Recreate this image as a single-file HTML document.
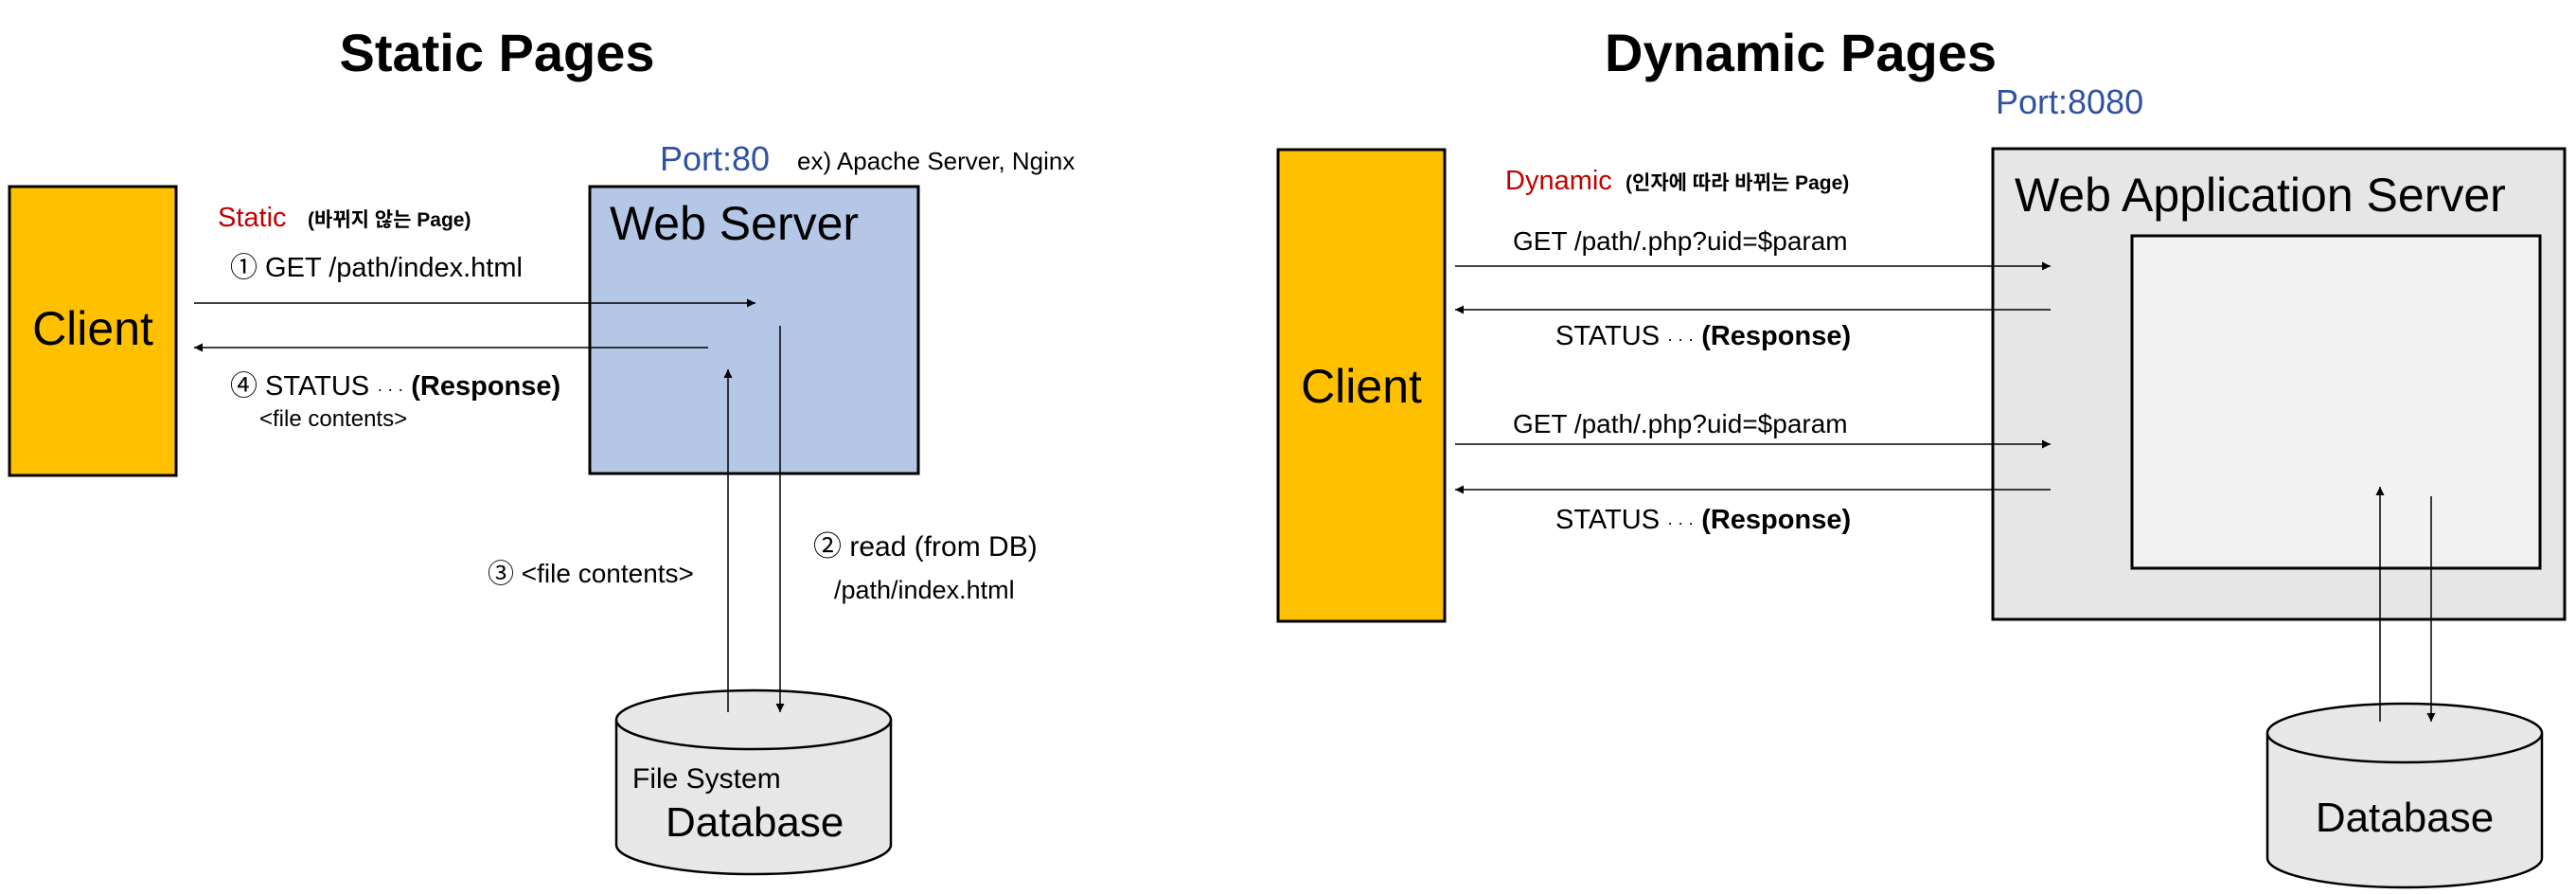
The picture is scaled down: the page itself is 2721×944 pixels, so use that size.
<!DOCTYPE html>
<html><head><meta charset="utf-8"><style>
html,body{margin:0;padding:0;background:#fff;width:2721px;height:944px;overflow:hidden}
svg text{font-family:"Liberation Sans","Noto Sans CJK KR",sans-serif}
.k{font-family:"Liberation Sans","Noto Sans CJK KR",sans-serif;font-weight:bold}
</style></head><body>
<svg width="2721" height="944" viewBox="0 0 2721 944" xmlns="http://www.w3.org/2000/svg">
<defs>
<marker id="a" viewBox="0 0 10 10" refX="10" refY="5" markerWidth="9" markerHeight="9" markerUnits="userSpaceOnUse" orient="auto"><path d="M0,0L10,5L0,10z" fill="#000"/></marker>
</defs>
<!-- Static -->
<text x="525" y="75" font-size="56" font-weight="bold" text-anchor="middle">Static Pages</text>
<rect x="10" y="197" width="176" height="305" fill="#ffc000" stroke="#000" stroke-width="3"/>
<text x="98" y="364" font-size="50" text-anchor="middle">Client</text>
<rect x="623" y="197" width="347" height="303" fill="#b4c7e7" stroke="#000" stroke-width="3"/>
<text x="644" y="253" font-size="50">Web Server</text>
<text x="697" y="180" font-size="36" fill="#2f52a0">Port:80</text>
<text x="842" y="179" font-size="26">ex) Apache Server, Nginx</text>
<text x="230" y="239" font-size="29" fill="#c00000">Static</text>
<text x="325" y="239" font-size="21" class="k">(바뀌지 않는 Page)</text>
<text x="243" y="292" font-size="29">① GET  /path/index.html</text>
<line x1="205" y1="320" x2="798" y2="320" stroke="#000" stroke-width="1.5" marker-end="url(#a)"/>
<line x1="748" y1="367" x2="205" y2="367" stroke="#000" stroke-width="1.5" marker-end="url(#a)"/>
<text x="243" y="417" font-size="29">④ STATUS <tspan font-size="18">· · ·</tspan> <tspan font-weight="bold">(Response)</tspan></text>
<text x="274" y="450" font-size="24">&lt;file contents&gt;</text>
<text x="515" y="615" font-size="28">③ &lt;file contents&gt;</text>
<text x="859" y="587" font-size="30">② read (from DB)</text>
<text x="881" y="632" font-size="27">/path/index.html</text>
<path d="M651,760 L651,892 A145,31 0 0 0 941,892 L941,760" fill="#e7e7e7" stroke="#000" stroke-width="2.5"/>
<ellipse cx="796" cy="760" rx="145" ry="31" fill="#e7e7e7" stroke="#000" stroke-width="2.5"/>
<line x1="769" y1="752" x2="769" y2="390" stroke="#000" stroke-width="1.5" marker-end="url(#a)"/>
<line x1="824" y1="344" x2="824" y2="752" stroke="#000" stroke-width="1.5" marker-end="url(#a)"/>
<text x="668" y="832" font-size="30">File System</text>
<text x="703" y="883" font-size="44">Database</text>
<!-- Dynamic -->
<text x="1902" y="75" font-size="56" font-weight="bold" text-anchor="middle">Dynamic Pages</text>
<text x="2108" y="120" font-size="36" fill="#2f52a0">Port:8080</text>
<rect x="1350" y="158" width="176" height="498" fill="#ffc000" stroke="#000" stroke-width="3"/>
<text x="1438" y="425" font-size="50" text-anchor="middle">Client</text>
<rect x="2105" y="157" width="604" height="497" fill="#e6e6e6" stroke="#000" stroke-width="3"/>
<rect x="2252" y="249" width="431" height="351" fill="#f2f2f2" stroke="#000" stroke-width="3"/>
<text x="2128" y="223" font-size="50">Web Application Server</text>
<text x="1590" y="200" font-size="29" fill="#c00000">Dynamic</text>
<text x="1717" y="200" font-size="21" class="k">(인자에 따라 바뀌는 Page)</text>
<text x="1598" y="264" font-size="28">GET  /path/.php?uid=$param</text>
<line x1="1537" y1="281" x2="2166" y2="281" stroke="#000" stroke-width="1.5" marker-end="url(#a)"/>
<line x1="2166" y1="327" x2="1537" y2="327" stroke="#000" stroke-width="1.5" marker-end="url(#a)"/>
<text x="1643" y="364" font-size="29">STATUS <tspan font-size="18">· · ·</tspan> <tspan font-weight="bold">(Response)</tspan></text>
<text x="1598" y="457" font-size="28">GET  /path/.php?uid=$param</text>
<line x1="1537" y1="469" x2="2166" y2="469" stroke="#000" stroke-width="1.5" marker-end="url(#a)"/>
<line x1="2166" y1="517" x2="1537" y2="517" stroke="#000" stroke-width="1.5" marker-end="url(#a)"/>
<text x="1643" y="558" font-size="29">STATUS <tspan font-size="18">· · ·</tspan> <tspan font-weight="bold">(Response)</tspan></text>
<path d="M2395,774 L2395,906 A145,31 0 0 0 2685,906 L2685,774" fill="#e7e7e7" stroke="#000" stroke-width="2.5"/>
<ellipse cx="2540" cy="774" rx="145" ry="31" fill="#e7e7e7" stroke="#000" stroke-width="2.5"/>
<line x1="2514" y1="762" x2="2514" y2="514" stroke="#000" stroke-width="1.5" marker-end="url(#a)"/>
<line x1="2568" y1="524" x2="2568" y2="762" stroke="#000" stroke-width="1.5" marker-end="url(#a)"/>
<text x="2540" y="878" font-size="44" text-anchor="middle">Database</text>
</svg>
</body></html>
